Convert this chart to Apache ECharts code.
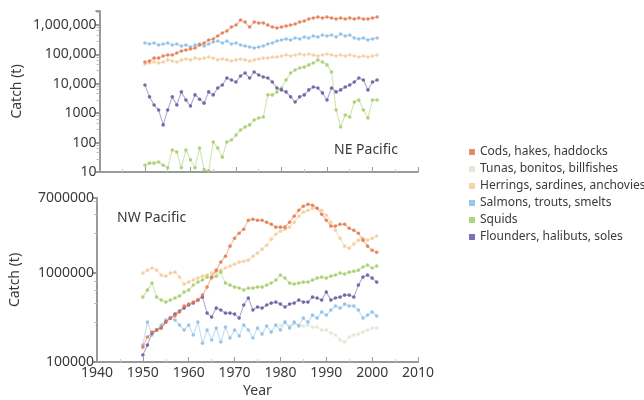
<!DOCTYPE html>
<html>
<head>
<meta charset="utf-8">
<script src="https://cdn.jsdelivr.net/npm/echarts@6/dist/echarts.min.js"></script>
<style>
  html, body { margin: 0; padding: 0; background: #fff; }
  #chart { width: 644px; height: 400px; }
</style>
</head>
<body>
<div id="chart"></div>
<script>
// Annual catch (t), 1950-2001, for two Pacific regions
const years = [1950,1951,1952,1953,1954,1955,1956,1957,1958,1959,
  1960,1961,1962,1963,1964,1965,1966,1967,1968,1969,
  1970,1971,1972,1973,1974,1975,1976,1977,1978,1979,
  1980,1981,1982,1983,1984,1985,1986,1987,1988,1989,
  1990,1991,1992,1993,1994,1995,1996,1997,1998,1999,
  2000,2001];

const seriesNames = ['Cods, hakes, haddocks', 'Tunas, bonitos, billfishes',
  'Herrings, sardines, anchovies', 'Salmons, trouts, smelts', 'Squids',
  'Flounders, halibuts, soles'];

// ---- NE Pacific ----
const neCods = [55000,60000,75000,75000,88000,95000,95000,112000,131000,141000,
  153000,165000,209000,244000,309000,334000,423000,535000,625000,855000,
  1000000,1480000,1260000,855000,1260000,1170000,1170000,1000000,855000,790000,
  855000,925000,1000000,1080000,1260000,1370000,1600000,1730000,1870000,1730000,
  1870000,1730000,1600000,1730000,1600000,1730000,1600000,1730000,1600000,1600000,
  1730000,1870000];
const neHerrings = [47000,51000,55000,51000,55000,65000,60000,55000,65000,70000,
  65000,75000,70000,75000,82000,75000,65000,70000,65000,60000,
  65000,70000,65000,60000,65000,70000,75000,75000,82000,82000,
  88000,95000,88000,95000,103000,95000,103000,95000,88000,95000,
  103000,95000,88000,95000,88000,95000,88000,82000,88000,82000,
  88000,95000];
const neSalmons = [244000,226000,244000,209000,226000,244000,209000,226000,193000,209000,
  179000,209000,226000,193000,226000,264000,286000,244000,286000,226000,
  244000,209000,193000,179000,165000,179000,193000,226000,244000,286000,
  309000,334000,309000,361000,334000,391000,361000,423000,391000,457000,
  423000,457000,391000,495000,423000,457000,361000,334000,361000,309000,
  334000,361000];
const neSquids = [17,20,20,22,17,14,56,48,14,56,
  26,14,65,12,11,105,65,32,105,122,
  180,270,340,400,590,690,740,4200,4200,5300,
  7200,13500,23300,29400,34400,37000,44000,51000,65000,55000,
  44000,25200,1290,340,870,740,2400,2800,1290,690,
  2800,2800];
const neFlounders = [9100,3600,1900,1290,400,1290,3600,1900,5300,2800,
  1760,4200,3000,2200,5300,4200,7200,9100,15700,13500,
  11500,18400,23300,15700,25200,19900,17000,15700,11500,7200,
  6200,5300,3600,2400,3600,4200,6200,7800,7200,4900,
  2800,7200,5300,6200,7800,9100,11500,15700,13500,6200,
  11500,13500];

// ---- NW Pacific ----
const nwCods = [147000,191000,217000,229000,241000,281000,312000,329000,365000,426000,
  448000,472000,497000,566000,696000,902000,1080000,1330000,1550000,2010000,
  2470000,2810000,3120000,3940000,4040000,3940000,3940000,3740000,3550000,3290000,
  3290000,3290000,3740000,4370000,5100000,5660000,5960000,5810000,5370000,4600000,
  3940000,3380000,3380000,3550000,3550000,3200000,3040000,2810000,2350000,2010000,
  1810000,1720000];
const nwTunas = ['-','-','-','-','-','-','-','-','-','-',
  '-','-','-','-','-','-','-','-','-','-',
  '-','-','-','-','-','-','-','-','-','-',
  260000,281000,254000,270000,260000,254000,260000,247000,247000,229000,
  229000,212000,201000,177000,168000,191000,201000,206000,217000,229000,
  241000,241000];
const nwHerrings = [1000000,1080000,1140000,1080000,950000,925000,1000000,1026000,902000,752000,
  792000,834000,879000,925000,950000,1000000,1026000,1080000,1140000,1200000,
  1260000,1330000,1360000,1400000,1550000,1680000,1860000,2060000,2410000,2740000,
  2960000,3120000,3290000,3740000,4370000,4850000,5100000,5370000,5370000,5100000,
  4480000,3740000,3040000,2470000,2010000,1910000,2120000,2350000,2470000,2350000,
  2470000,2610000];
const nwSalmons = [155000,281000,201000,229000,260000,296000,312000,296000,260000,229000,
  260000,201000,281000,163000,229000,177000,241000,168000,247000,186000,
  229000,196000,260000,229000,186000,241000,206000,254000,217000,260000,
  229000,281000,241000,281000,254000,312000,281000,337000,312000,365000,
  337000,384000,426000,404000,448000,426000,426000,384000,312000,337000,
  365000,329000];
const nwSquids = [537000,644000,772000,537000,497000,472000,497000,524000,552000,612000,
  644000,733000,792000,834000,902000,879000,925000,1026000,772000,733000,
  696000,678000,644000,678000,678000,696000,696000,733000,772000,834000,
  950000,879000,772000,752000,772000,792000,792000,834000,879000,902000,
  879000,925000,950000,1000000,975000,1026000,1050000,1080000,1170000,1230000,
  1140000,1200000];
const nwFlounders = [120000,155000,212000,229000,241000,281000,312000,346000,374000,404000,
  437000,460000,497000,537000,355000,320000,404000,384000,355000,355000,
  346000,312000,437000,524000,384000,415000,404000,437000,460000,472000,
  448000,415000,448000,460000,497000,472000,472000,537000,524000,497000,
  612000,497000,524000,537000,566000,566000,537000,733000,902000,950000,
  879000,792000];

// Axis tick labels
const xTickYears = [1940, 1950, 1960, 1970, 1980, 1990, 2000, 2010];
const neTickValues = [10, 100, 1000, 10000, 100000, 1000000];
const neTickText = ['10', '100', '1000', '10,000', '100,000', '1,000,000'];
const nwTickValues = [100000, 1000000, 7000000];
const nwTickText = ['100000', '1000000', '7000000'];

const colors = ['#e5774a', '#dfe5d4', '#f5cb9c', '#8abde6', '#a3cd68', '#62579f'];

const FONT = '"Noto Sans", "DejaVu Sans", sans-serif';
const TEXT = '#3a3a3a';
const AXIS = '#9a9a9a';

function pairs(vals) {
  return years.map((y, i) => [y, vals[i]]);
}

function labelFrom(values, texts) {
  return function (v) {
    for (let i = 0; i < values.length; i++) {
      if (Math.abs(v - values[i]) / values[i] < 1e-4) return texts[i];
    }
    return '';
  };
}

function makeX(gridIndex, showLabels) {
  return {
    type: 'value', gridIndex: gridIndex, min: 1940, max: 2010, interval: 10,
    axisLine: { lineStyle: { color: AXIS, width: 2 } },
    axisTick: { show: true, inside: true, length: 5, lineStyle: { color: AXIS } },
    minorTick: { show: true, splitNumber: 2, length: 3, lineStyle: { color: '#c8c8c8' } },
    splitLine: { show: false },
    axisLabel: {
      show: showLabels, color: TEXT, fontFamily: FONT, fontSize: 14, margin: 4,
      formatter: function (v) { return xTickYears.indexOf(v) >= 0 ? String(v) : ''; }
    },
    name: showLabels ? 'Year' : '',
    nameLocation: 'middle', nameGap: 22,
    nameTextStyle: { color: TEXT, fontFamily: FONT, fontSize: 14 }
  };
}

function makeY(gridIndex, min, max, values, texts) {
  return {
    type: 'log', logBase: 10, gridIndex: gridIndex, min: min, max: max,
    axisLine: { show: true, lineStyle: { color: AXIS, width: 2 } },
    axisTick: { show: true, inside: false, length: 4, lineStyle: { color: AXIS, width: 2 } },
    minorTick: { show: true, splitNumber: 5, length: 3, lineStyle: { color: '#c0c0c0' } },
    splitLine: { show: false },
    axisLabel: {
      color: TEXT, fontFamily: FONT, fontSize: 14, margin: 3,
      formatter: labelFrom(values, texts)
    },
    name: 'Catch (t)', nameLocation: 'middle', nameGap: 75,
    nameTextStyle: { color: TEXT, fontFamily: FONT, fontSize: 14 }
  };
}

function makeSeries(name, colorIdx, gridIdx, vals, z) {
  return {
    name: name, type: 'line', xAxisIndex: gridIdx, yAxisIndex: gridIdx,
    data: pairs(vals), symbol: 'circle', symbolSize: 3.6, showSymbol: true,
    connectNulls: false, z: z,
    itemStyle: { color: colors[colorIdx], opacity: 0.85 },
    lineStyle: { color: colors[colorIdx], width: 1.1, opacity: 0.5 },
    emphasis: { disabled: true }
  };
}

const chart = echarts.init(document.getElementById('chart'), null, { renderer: 'canvas' });

chart.setOption({
  animation: false,
  backgroundColor: '#ffffff',
  textStyle: { fontFamily: FONT },
  grid: [
    { left: 95, top: 11, width: 323, height: 161 },
    { left: 95, top: 198, width: 323, height: 164 }
  ],
  xAxis: [makeX(0, false), makeX(1, true)],
  yAxis: [
    makeY(0, 10, 3000000, neTickValues, neTickText),
    makeY(1, 100000, 7000000, nwTickValues, nwTickText)
  ],
  legend: {
    orient: 'vertical', left: 464, top: 140,
    itemWidth: 6, itemHeight: 6, itemGap: 3, icon: 'rect',
    selectedMode: false,
    textStyle: { color: TEXT, fontFamily: FONT, fontSize: 12, lineHeight: 14 },
    data: seriesNames
  },
  series: [
    makeSeries(seriesNames[2], 2, 0, neHerrings, 2),
    makeSeries(seriesNames[3], 3, 0, neSalmons, 3),
    makeSeries(seriesNames[4], 4, 0, neSquids, 4),
    makeSeries(seriesNames[5], 5, 0, neFlounders, 5),
    makeSeries(seriesNames[0], 0, 0, neCods, 6),
    makeSeries(seriesNames[1], 1, 1, nwTunas, 1),
    makeSeries(seriesNames[3], 3, 1, nwSalmons, 2),
    makeSeries(seriesNames[2], 2, 1, nwHerrings, 3),
    makeSeries(seriesNames[4], 4, 1, nwSquids, 4),
    makeSeries(seriesNames[5], 5, 1, nwFlounders, 5),
    makeSeries(seriesNames[0], 0, 1, nwCods, 6)
  ],
  graphic: [
    {
      type: 'text', left: 331, top: 141, z: 100,
      style: { text: 'NE Pacific', font: '14px ' + FONT, fill: TEXT,
        backgroundColor: '#ffffff', padding: [2, 3] }
    },
    {
      type: 'text', left: 114, top: 209, z: 100,
      style: { text: 'NW Pacific', font: '14px ' + FONT, fill: TEXT,
        backgroundColor: '#ffffff', padding: [2, 3] }
    }
  ]
});
</script>
</body>
</html>
